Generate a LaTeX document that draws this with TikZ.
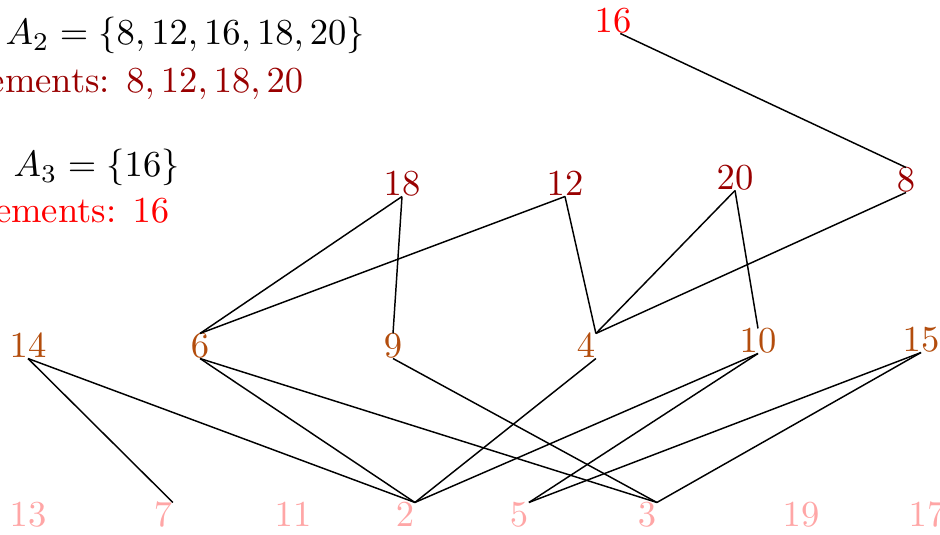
\documentclass[tikz,border=0pt]{standalone}
\usepackage{amsmath,amssymb}
\usepackage{tikz}
\definecolor{primepink}{HTML}{FFA6A6}
\definecolor{levelone}{HTML}{B34D0D}
\definecolor{leveltwo}{HTML}{990000}
\definecolor{levelthree}{HTML}{FF0000}
\tikzset{
  elemnode/.style={inner sep=0pt,font=\normalsize},
  hasseedge/.style={line width=0.4pt,draw=black},
  infotext/.style={inner sep=0pt,font=\normalsize}
}
\begin{document}
\begin{tikzpicture}[x=0.2732pt,y=0.2732pt]
\path[use as bounding box] (0,0) rectangle (940,535);
\clip (0,0) rectangle (940,535);
\node[infotext,anchor=base west] (atwo) at (5,490) {$A_2=\{8,12,16,18,20\}$};
\node[infotext,anchor=base east,text=leveltwo] (mintwo) at (304,442)
  {Minimal elements: $8,12,18,20$};
\node[infotext,anchor=base west] (athree) at (13,358) {$A_3=\{16\}$};
\node[infotext,anchor=base east,text=levelthree] (minthree) at (170,312)
  {Minimal elements: $16$};
\foreach \v/\px in {13/28,7/163,11/293,2/405,5/519,3/647,19/801,17/927}
  \node[elemnode,text=primepink] (n\v) at (\px,20) {$\v$};
\foreach \v/\px/\py in {14/28/189,6/200/189,9/393/189,4/586/189,10/758/194,15/921/195}
  \node[elemnode,text=levelone] (n\v) at (\px,\py) {$\v$};
\foreach \v/\px/\py in {18/402/351,12/565/351,20/735/357,8/906/355}
  \node[elemnode,text=leveltwo] (n\v) at (\px,\py) {$\v$};
\node[elemnode,text=levelthree] (n16) at (613,514) {$16$};
\draw[hasseedge] ([xshift=2]n16.south) -- (n8.north);
\foreach \a/\b/\sb in {18/6/north,18/9/north,12/6/north,12/4/north east,
    20/4/north east,20/10/north,8/4/north east}
  \draw[hasseedge] (n\a.south) -- (n\b.\sb);
\foreach \a/\sa/\b in {14/south/2,14/south/7,6/south/2,6/south/3,9/south/3,
    4/south east/2,10/south/2,10/south/5,15/south/5,15/south/3}
  \draw[hasseedge] (n\a.\sa) -- (n\b.north east);
\end{tikzpicture}
\end{document}
